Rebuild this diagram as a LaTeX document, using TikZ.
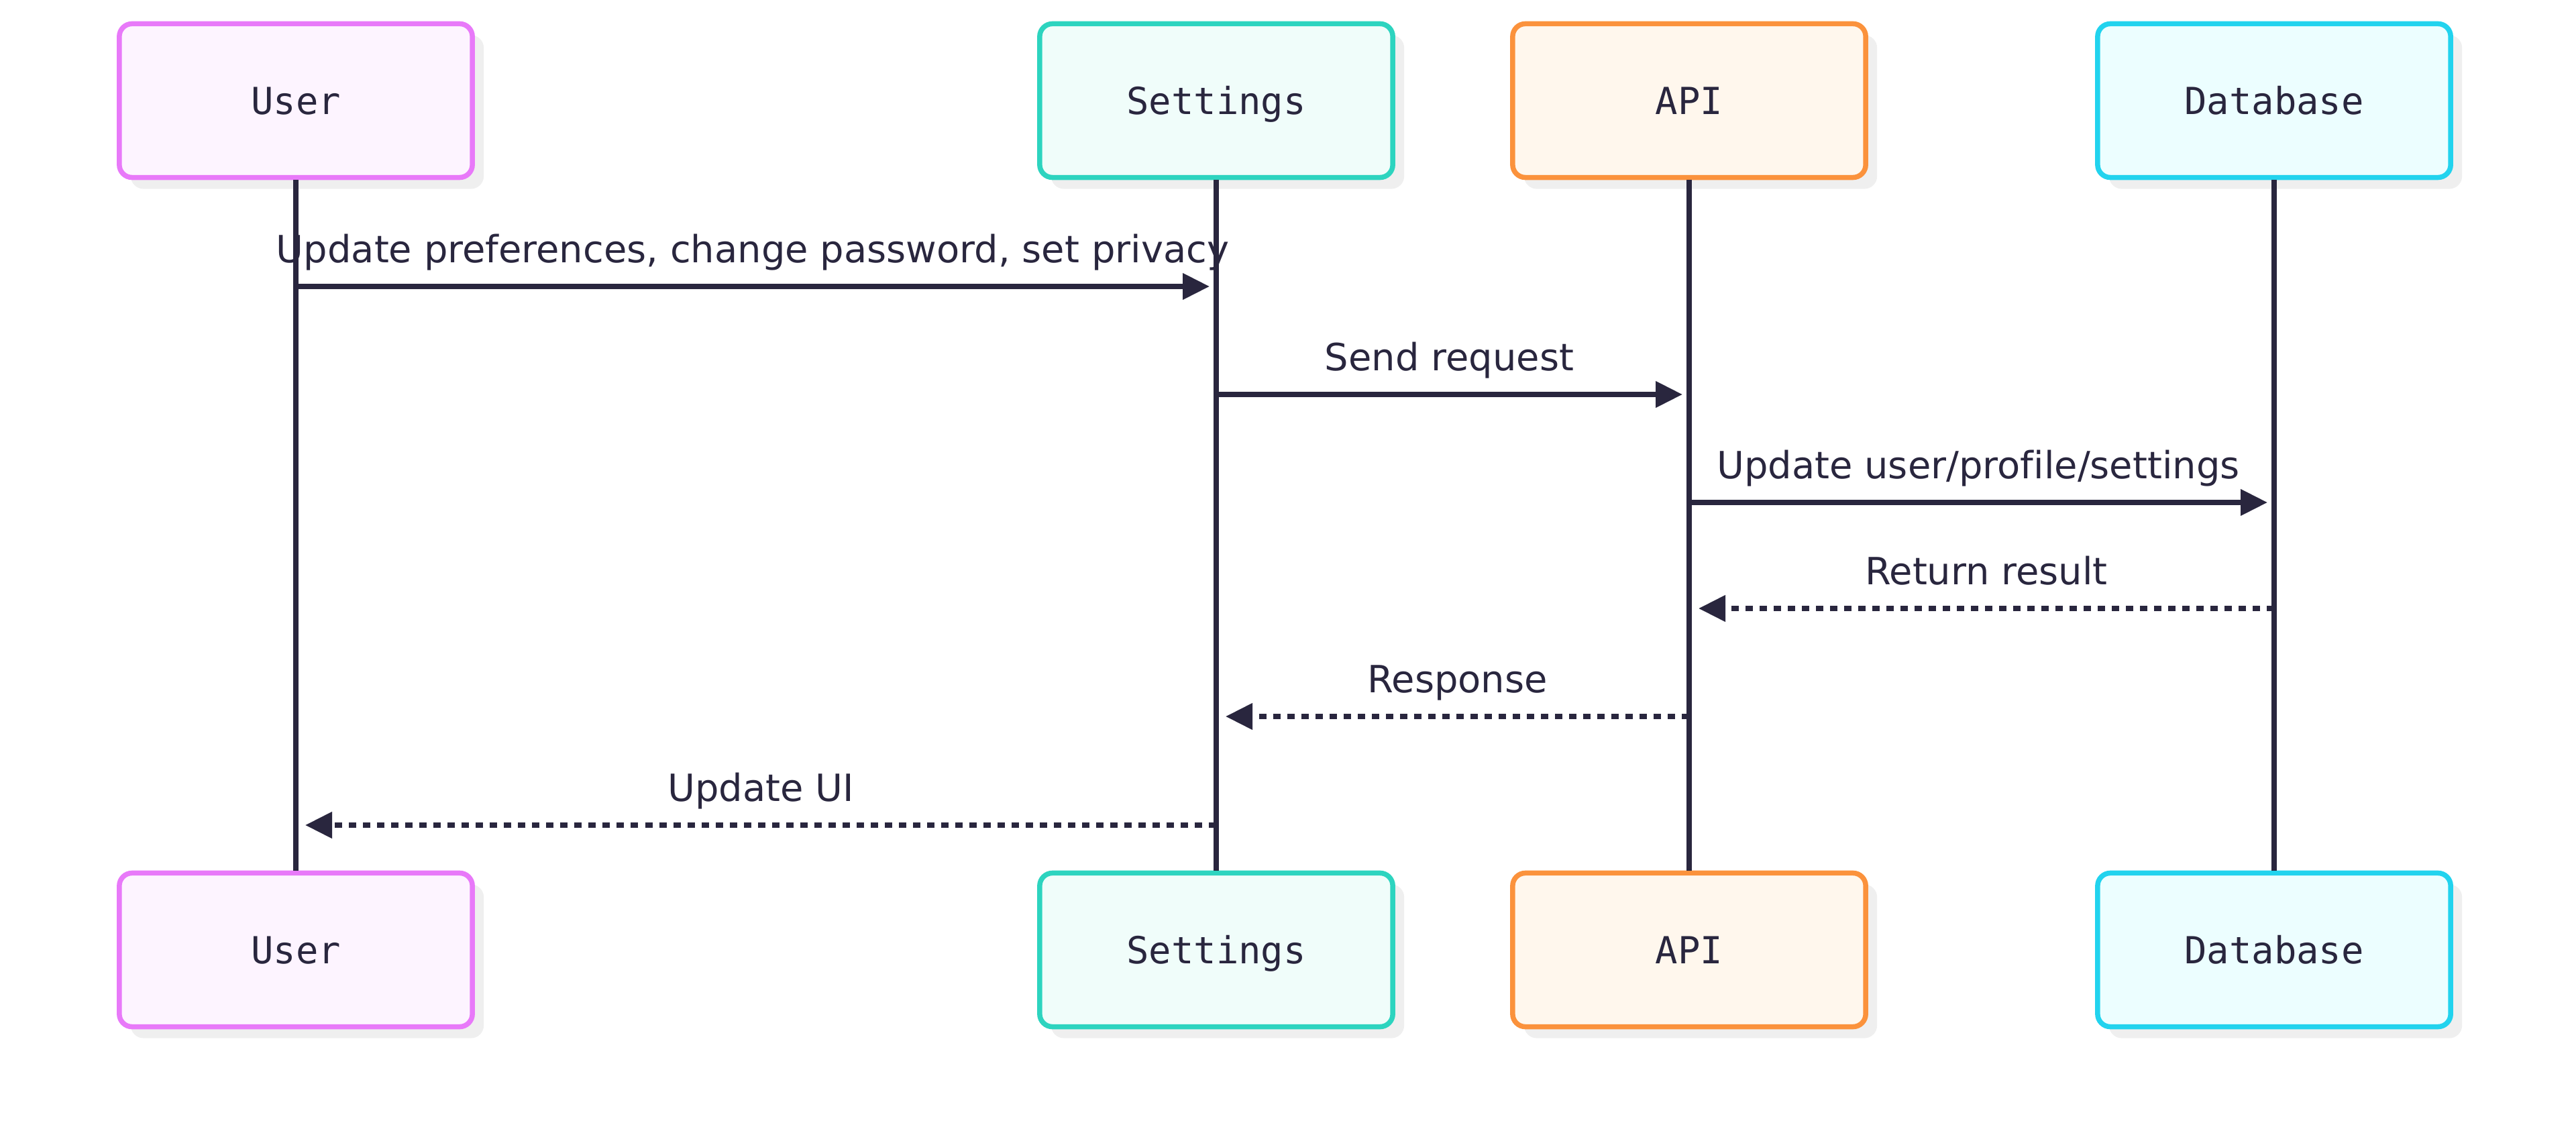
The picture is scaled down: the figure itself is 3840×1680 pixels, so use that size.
\documentclass[tikz,border=0pt]{standalone}
\usepackage{fontspec}
\setmainfont{DejaVu Sans}[Ligatures=NoCommon]
\setmonofont{DejaVu Sans Mono}
\usetikzlibrary{arrows.meta,shadows}
\definecolor{ink}{HTML}{29263E}
\definecolor{userB}{HTML}{E879F9}\definecolor{userF}{HTML}{FDF4FF}
\definecolor{setB}{HTML}{2DD4BF}\definecolor{setF}{HTML}{F0FDFA}
\definecolor{apiB}{HTML}{FB923C}\definecolor{apiF}{HTML}{FFF7ED}
\definecolor{dbB}{HTML}{22D3EE}\definecolor{dbF}{HTML}{ECFEFF}
\definecolor{shade}{HTML}{EFEFEF}
\tikzset{
  actor/.style={rectangle, rounded corners=0.19cm, line width=0.075cm,
    minimum width=5.26cm, minimum height=2.29cm, inner sep=0pt,
    font=\ttfamily\fontsize{15.8pt}{18pt}\selectfont, text=ink,
    text height=11.5pt, text depth=0pt,
    drop shadow={shadow xshift=0.17cm, shadow yshift=-0.17cm, fill=shade, opacity=1}},
  life/.style={draw=ink, line width=0.075cm},
  msg/.style={draw=ink, line width=0.075cm, -{Triangle[length=0.40cm,width=0.38cm]}},
  reply/.style={msg, dash pattern=on 0.11cm off 0.10cm},
  lbl/.style={font=\fontsize{15.9pt}{19pt}\selectfont, text=ink, anchor=base, inner sep=0pt, yshift=0.35cm}
}
\begin{document}
\begin{tikzpicture}[x=0.01cm, y=-0.01cm]
\useasboundingbox (0,0) rectangle (3840,1680);
% top actors
\node[actor, draw=userB, fill=userF] (uT) at (441,150) {User};
\node[actor, draw=setB, fill=setF] (sT) at (1813,150) {Settings};
\node[actor, draw=apiB, fill=apiF] (aT) at (2518,150) {API};
\node[actor, draw=dbB, fill=dbF] (dT) at (3390,150) {Database};
% bottom actors
\node[actor, draw=userB, fill=userF] (uB) at (441,1416) {User};
\node[actor, draw=setB, fill=setF] (sB) at (1813,1416) {Settings};
\node[actor, draw=apiB, fill=apiF] (aB) at (2518,1416) {API};
\node[actor, draw=dbB, fill=dbF] (dB) at (3390,1416) {Database};
% lifelines
\draw[life] (uT.south) -- (uB.north);
\draw[life] (sT.south) -- (sB.north);
\draw[life] (aT.south) -- (aB.north);
\draw[life] (dT.south) -- (dB.north);
% message end points
\coordinate (m1s) at (441,427);  \coordinate (m1e) at (1803,427);
\coordinate (m2s) at (1813,588); \coordinate (m2e) at (2508,588);
\coordinate (m3s) at (2518,749); \coordinate (m3e) at (3380,749);
\coordinate (m4s) at (3390,907); \coordinate (m4e) at (2532,907);
\coordinate (m5s) at (2518,1068); \coordinate (m5e) at (1827,1068);
\coordinate (m6s) at (1813,1230); \coordinate (m6e) at (455,1230);
% messages
\draw[msg] (m1s) -- node[lbl] {Update preferences, change password, set privacy} (m1e);
\draw[msg] (m2s) -- node[lbl] {Send request} (m2e);
\draw[msg] (m3s) -- node[lbl] {Update user/profile/settings} (m3e);
\draw[reply] (m4s) -- node[lbl] {Return result} (m4e);
\draw[reply] (m5s) -- node[lbl] {Response} (m5e);
\draw[reply] (m6s) -- node[lbl] {Update UI} (m6e);
\end{tikzpicture}
\end{document}
